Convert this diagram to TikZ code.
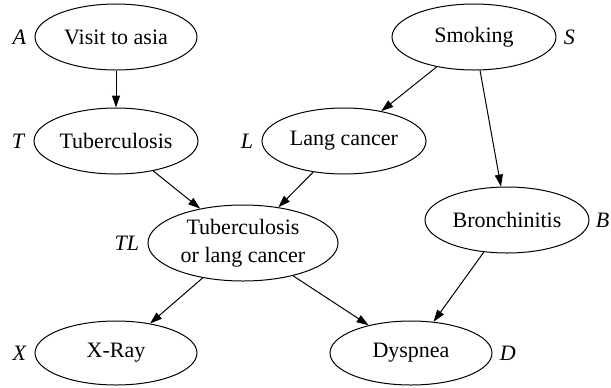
\documentclass[tikz,border=0pt]{standalone}
\usepackage{fontspec}
\setmainfont{Liberation Serif}
\usetikzlibrary{shapes.geometric,arrows.meta,positioning}
\begin{document}
\begin{tikzpicture}[x=0.5pt,y=-0.5pt,
  knoten/.style={draw,ellipse,line width=0.5pt,inner sep=0pt,minimum width=81pt,minimum height=33pt,font=\fontsize{11}{14}\selectfont,align=center},
  buchst/.style={inner sep=0pt,font=\fontsize{11}{14}\selectfont\itshape},
  pfeil/.style={line width=0.5pt,-{Triangle[length=6pt,width=4pt]}}]
\useasboundingbox (0,0) rectangle (611,387);
%Knoten
\node[knoten] (asia) at (116,37) {Visit to asia};
\node[knoten,minimum width=82pt] (smoke) at (474,37) {Smoking};
\node[knoten,minimum width=82pt] (tub) at (116,141) {Tuberculosis};
\node[knoten,minimum width=82pt] (lung) at (344,141) {Lang cancer};
\node[knoten,minimum width=95pt,minimum height=38pt] (tublung) at (243,243) {Tuberculosis\\or lang cancer};
\node[knoten,minimum width=82pt] (bronch) at (507,220) {Bronchinitis};
\node[knoten,minimum height=32pt] (xray) at (116,353) {X-Ray};
\node[knoten,minimum height=32pt] (dysp) at (411,353) {Dyspnea};
%Buchstaben
\node[buchst,left=4pt of asia] (asia-l) {A};
\node[buchst,right=3.5pt of smoke] (smoke-l) {S};
\node[buchst,left=4.5pt of tub] (tub-l) {T};
\node[buchst,left=4pt of lung] (lung-l) {L};
\node[buchst,left=4pt of tublung] (tublung-l) {TL};
\node[buchst,right=3pt of bronch] (bronch-l) {B};
\node[buchst,left=4pt of xray] (xray-l) {X};
\node[buchst,right=3.5pt of dysp] (dysp-l) {D};
%Kanten
\draw[pfeil] (asia) -- (tub);
\draw[pfeil] (smoke) -- (lung);
\draw[pfeil] (smoke) -- (bronch);
\draw[pfeil] (tub) -- (tublung);
\draw[pfeil] (lung) -- (tublung);
\draw[pfeil] (tublung) -- (xray);
\draw[pfeil] (tublung) -- (dysp);
\draw[pfeil] (bronch) -- (dysp);
\end{tikzpicture}
\end{document}
